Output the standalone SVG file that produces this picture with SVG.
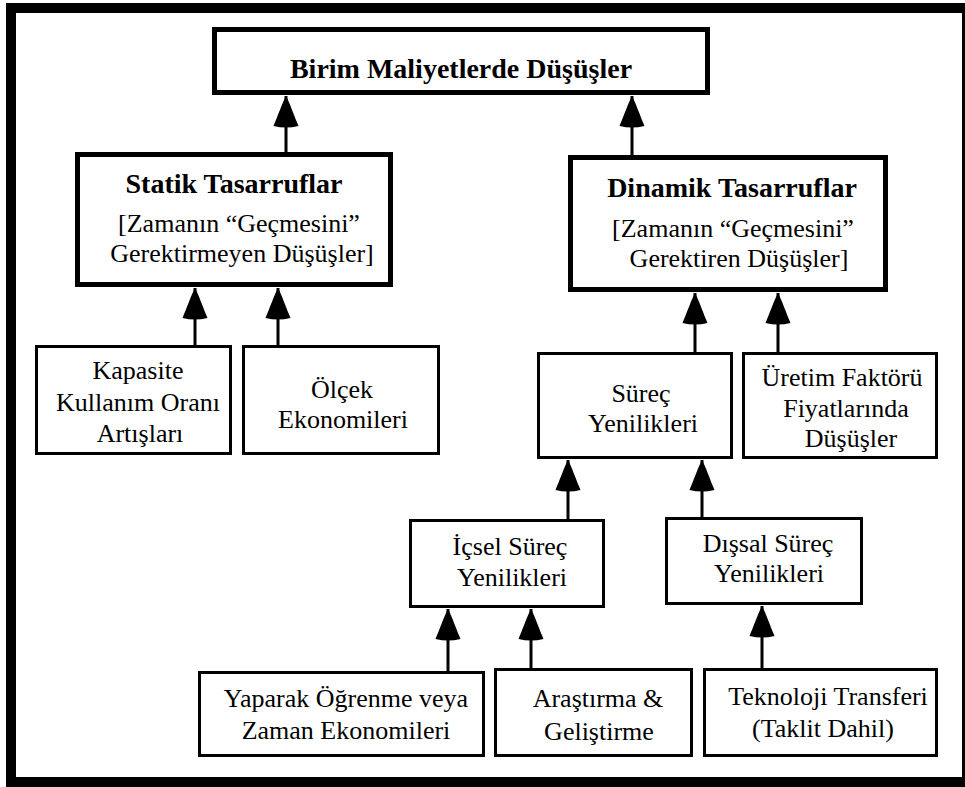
<svg xmlns="http://www.w3.org/2000/svg" width="965" height="787" viewBox="0 0 965 787">
<defs>
<style>
.frame{fill:none;stroke:#000;stroke-width:10}
.heavy{fill:#fff;stroke:#000;stroke-width:5}
.light{fill:#fff;stroke:#000;stroke-width:3}
.t{font-family:'Liberation Serif','Times New Roman',serif;font-size:26px;fill:#000;text-anchor:middle}
.b{font-family:'Liberation Serif','Times New Roman',serif;font-size:28px;font-weight:bold;fill:#000;text-anchor:middle}
.c{stroke:#000;stroke-width:3;fill:none}
</style>
<marker id="ah" markerUnits="userSpaceOnUse" viewBox="0 -14 33 28" refX="32" refY="0" markerWidth="33" markerHeight="28" orient="auto">
<path d="M32,0 C27,3 10,9 2,12.5 Q-1,0 2,-12.5 C10,-9 27,-3 32,0 Z" fill="#000"/>
</marker>
</defs>
<rect width="965" height="787" fill="#fff"/>
<rect class="frame" x="11" y="8" width="956" height="774"/>

<g id="connectors">
<line class="c" x1="286" y1="152" x2="286" y2="96" marker-end="url(#ah)"/>
<line class="c" x1="632" y1="155" x2="632" y2="96" marker-end="url(#ah)"/>
<line class="c" x1="195" y1="345" x2="195" y2="288" marker-end="url(#ah)"/>
<line class="c" x1="278" y1="345" x2="278" y2="288" marker-end="url(#ah)"/>
<line class="c" x1="695" y1="352" x2="695" y2="293" marker-end="url(#ah)"/>
<line class="c" x1="778" y1="352" x2="778" y2="293" marker-end="url(#ah)"/>
<line class="c" x1="568" y1="519" x2="568" y2="460" marker-end="url(#ah)"/>
<line class="c" x1="702" y1="517" x2="702" y2="460" marker-end="url(#ah)"/>
<line class="c" x1="448" y1="671" x2="448" y2="609" marker-end="url(#ah)"/>
<line class="c" x1="531" y1="668" x2="531" y2="609" marker-end="url(#ah)"/>
<line class="c" x1="762" y1="668" x2="762" y2="606" marker-end="url(#ah)"/>
</g>

<g id="n-birim">
<rect class="heavy" x="214.5" y="29.5" width="493" height="63"/>
<text class="b" x="461" y="78">Birim Maliyetlerde Düşüşler</text>
</g>

<g id="n-statik">
<rect class="heavy" x="77.5" y="154.5" width="313" height="130"/>
<text class="b" x="234" y="193">Statik Tasarruflar</text>
<text class="t" x="239" y="232">[Zamanın “Geçmesini”</text>
<text class="t" x="242" y="262">Gerektirmeyen Düşüşler]</text>
</g>

<g id="n-dinamik">
<rect class="heavy" x="570.5" y="157.5" width="315" height="132"/>
<text class="b" x="732" y="197">Dinamik Tasarruflar</text>
<text class="t" x="733" y="237">[Zamanın “Geçmesini”</text>
<text class="t" x="739" y="267">Gerektiren Düşüşler]</text>
</g>

<g id="n-kapasite">
<rect class="light" x="36.5" y="346.5" width="194" height="107"/>
<text class="t" x="138" y="379">Kapasite</text>
<text class="t" x="138" y="411">Kullanım Oranı</text>
<text class="t" x="140" y="442">Artışları</text>
</g>

<g id="n-olcek">
<rect class="light" x="243.5" y="346.5" width="195" height="107"/>
<text class="t" x="342" y="398">Ölçek</text>
<text class="t" x="343" y="428">Ekonomileri</text>
</g>

<g id="n-surec">
<rect class="light" x="538.5" y="353.5" width="193" height="104"/>
<text class="t" x="641" y="402">Süreç</text>
<text class="t" x="643" y="432">Yenilikleri</text>
</g>

<g id="n-uretim">
<rect class="light" x="743.5" y="353.5" width="193" height="104"/>
<text class="t" x="842" y="386">Üretim Faktörü</text>
<text class="t" x="846" y="417">Fiyatlarında</text>
<text class="t" x="851" y="447">Düşüşler</text>
</g>

<g id="n-icsel">
<rect class="light" x="410.5" y="520.5" width="193" height="86"/>
<text class="t" x="510" y="555">İçsel Süreç</text>
<text class="t" x="512" y="586">Yenilikleri</text>
</g>

<g id="n-dissal">
<rect class="light" x="666.5" y="518.5" width="195" height="85"/>
<text class="t" x="768" y="552">Dışsal Süreç</text>
<text class="t" x="769" y="582">Yenilikleri</text>
</g>

<g id="n-yaparak">
<rect class="light" x="199.5" y="672.5" width="284" height="83"/>
<text class="t" x="346" y="707">Yaparak Öğrenme veya</text>
<text class="t" x="346" y="739">Zaman Ekonomileri</text>
</g>

<g id="n-arastirma">
<rect class="light" x="495.5" y="669.5" width="196" height="86"/>
<text class="t" x="598" y="707">Araştırma &amp;</text>
<text class="t" x="599" y="740">Geliştirme</text>
</g>

<g id="n-teknoloji">
<rect class="light" x="704.5" y="669.5" width="232" height="86"/>
<text class="t" x="828" y="705">Teknoloji Transferi</text>
<text class="t" x="823" y="737">(Taklit Dahil)</text>
</g>
</svg>
